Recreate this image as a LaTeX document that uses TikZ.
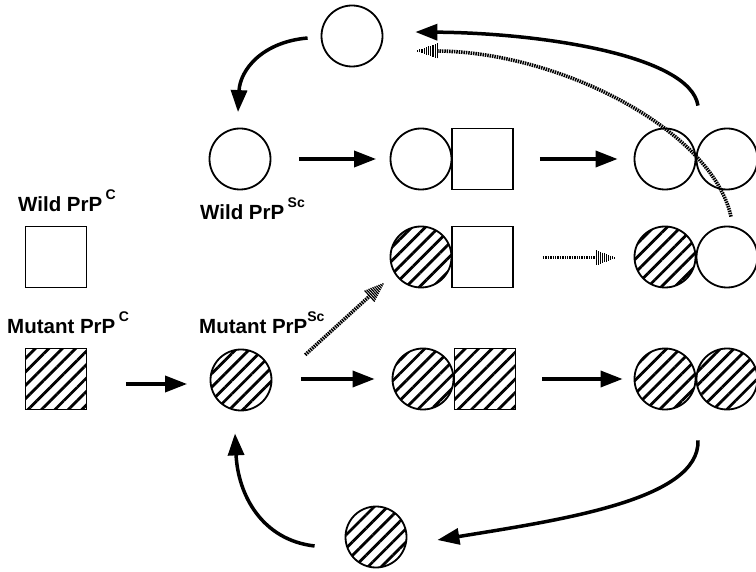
\documentclass[tikz,border=0pt]{standalone}
\usepackage{fontspec}
\setmainfont{Liberation Sans}
\usetikzlibrary{arrows.meta,patterns.meta,calc}
\newcommand\myexp[1]{\raisebox{12pt}{\fontsize{14}{14}\selectfont #1}}
\newcommand\hatchhead[2]{%
  \foreach \t in {0,0.1,...,0.91}{%
    \pgfmathsetmacro\hw{7.5*(1-\t)}%
    \draw[line width=1.2pt] ($(#1)!\t!(#2)!\hw pt!90:(#2)$) -- ($(#1)!\t!(#2)!\hw pt!-90:(#2)$);
  }}
\tikzset{
  ring/.style={circle,draw,line width=1.8pt,minimum size=61pt,inner sep=0pt},
  hring/.style={ring,pattern={Lines[angle=45,distance=9.5pt,line width=2.8pt]}},
  box/.style={rectangle,draw,line width=1.8pt,minimum size=61pt,inner sep=0pt},
  hbox/.style={box,pattern={Lines[angle=45,distance=9.5pt,line width=2.8pt]}},
  lbl/.style={anchor=base west,inner sep=0pt,font=\fontsize{20.5}{23}\selectfont\bfseries},
  solidarrow/.style={line width=3.5pt,-{Triangle[length=22pt,width=16pt]}},
  dotline/.style={line width=3.6pt,dash pattern=on 1.5pt off 0.9pt},
}
\begin{document}
\begin{tikzpicture}[x=1pt,y=-1pt]
\useasboundingbox (0,0) rectangle (756,572);
% nodes
\node[ring] (top) at (352,36) {};
\node[ring] (wsc) at (240,159) {};
\node[ring] (p1c) at (421,159) {};
\node[box]  (p1s) at (482.5,159) {};
\node[ring] (r1a) at (665,159) {};
\node[ring] (r1b) at (727,159) {};
\node[hring] (p2c) at (421,257) {};
\node[box]  (p2s) at (482.5,257) {};
\node[hring] (r2a) at (665,257) {};
\node[ring] (r2b) at (727,257) {};
\node[box] (wc) at (56,257) {};
\node[hbox] (mc) at (56,379) {};
\node[hring] (msc) at (241,380) {};
\node[hring] (p3c) at (423,379) {};
\node[hbox] (p3s) at (485,379) {};
\node[hring] (r3a) at (665,379) {};
\node[hring] (r3b) at (727,379) {};
\node[hring] (bot) at (376,537) {};
% labels
\node[lbl] (lwc) at (18,212) {Wild PrP\,\myexp{C}};
\node[lbl] (lmc) at (7,334) {Mutant PrP\,\myexp{C}};
\node[lbl] (lwsc) at (200,220) {Wild PrP\,\myexp{Sc}};
\node[lbl] (lmsc) at (199,334) {Mutant PrP\myexp{Sc}};
% straight arrows
\draw[solidarrow] ($(mc.east)+(38.5,5)$) -- ($(msc.west)+(-22.5,4)$);
\draw[solidarrow] ($(wsc.east)+(27.5,0)$) -- ($(p1c.west)+(-13.5,0)$);
\draw[solidarrow] ($(p1s.east)+(26,0)$) -- ($(r1a.west)+(-16,0)$);
\draw[solidarrow] ($(msc.east)+(28.5,-1)$) -- ($(p3c.west)+(-17,0)$);
\draw[solidarrow] ($(p3s.east)+(26,0)$) -- ($(r3a.west)+(-11,0)$);
% curved solid arrows
\coordinate (a1s) at ($(top.west)+(-13,2)$);
\coordinate (a1e) at ($(wsc.north)+(-2,-15.5)$);
\draw[solidarrow] (a1s) .. controls (262,42) and (240,70) .. (a1e);
\coordinate (a2s) at ($(r1a.north)+(33,-22)$);
\coordinate (a2e) at ($(top.east)+(32,-4)$);
\draw[solidarrow] (a2s) .. controls (690,55) and (540,33) .. (a2e);
\coordinate (a3s) at ($(r3a.south)+(33,30)$);
\coordinate (a3e) at ($(bot.east)+(30,3)$);
\draw[solidarrow] (a3s) .. controls (700,500) and (560,520) .. (a3e);
\coordinate (a4s) at ($(bot.west)+(-30,9)$);
\coordinate (a4e) at ($(msc.south)+(-6,22)$);
\draw[solidarrow] (a4s) .. controls (262,540) and (238,495) .. (a4e);
% dotted arrows
\coordinate (d1s) at ($(p2s.east)+(29,1)$);
\coordinate (d1t) at ($(r2a.west)+(-17,1)$);
\coordinate (d1b) at ($(d1t)+(-20,0)$);
\draw[dotline,line width=3pt] (d1s) -- (d1b);
\hatchhead{d1b}{d1t}
\coordinate (d2s) at ($(msc.north east)+(42,-3)$);
\coordinate (d2t) at ($(p2c.south west)+(-14,3)$);
\coordinate (d2b) at ($(d2t)!20pt!(d2s)$);
\draw[dotline] (d2s) -- (d2b);
\hatchhead{d2b}{d2t}
\coordinate (d3s) at ($(r2b.north)+(4,-9)$);
\coordinate (d3t) at ($(top.east)+(32,15)$);
\coordinate (d3b) at ($(d3t)+(22,0)$);
\draw[dotline] (d3s) .. controls (712,130) and (560,52) .. (d3b);
\hatchhead{d3b}{d3t}
\end{tikzpicture}
\end{document}
